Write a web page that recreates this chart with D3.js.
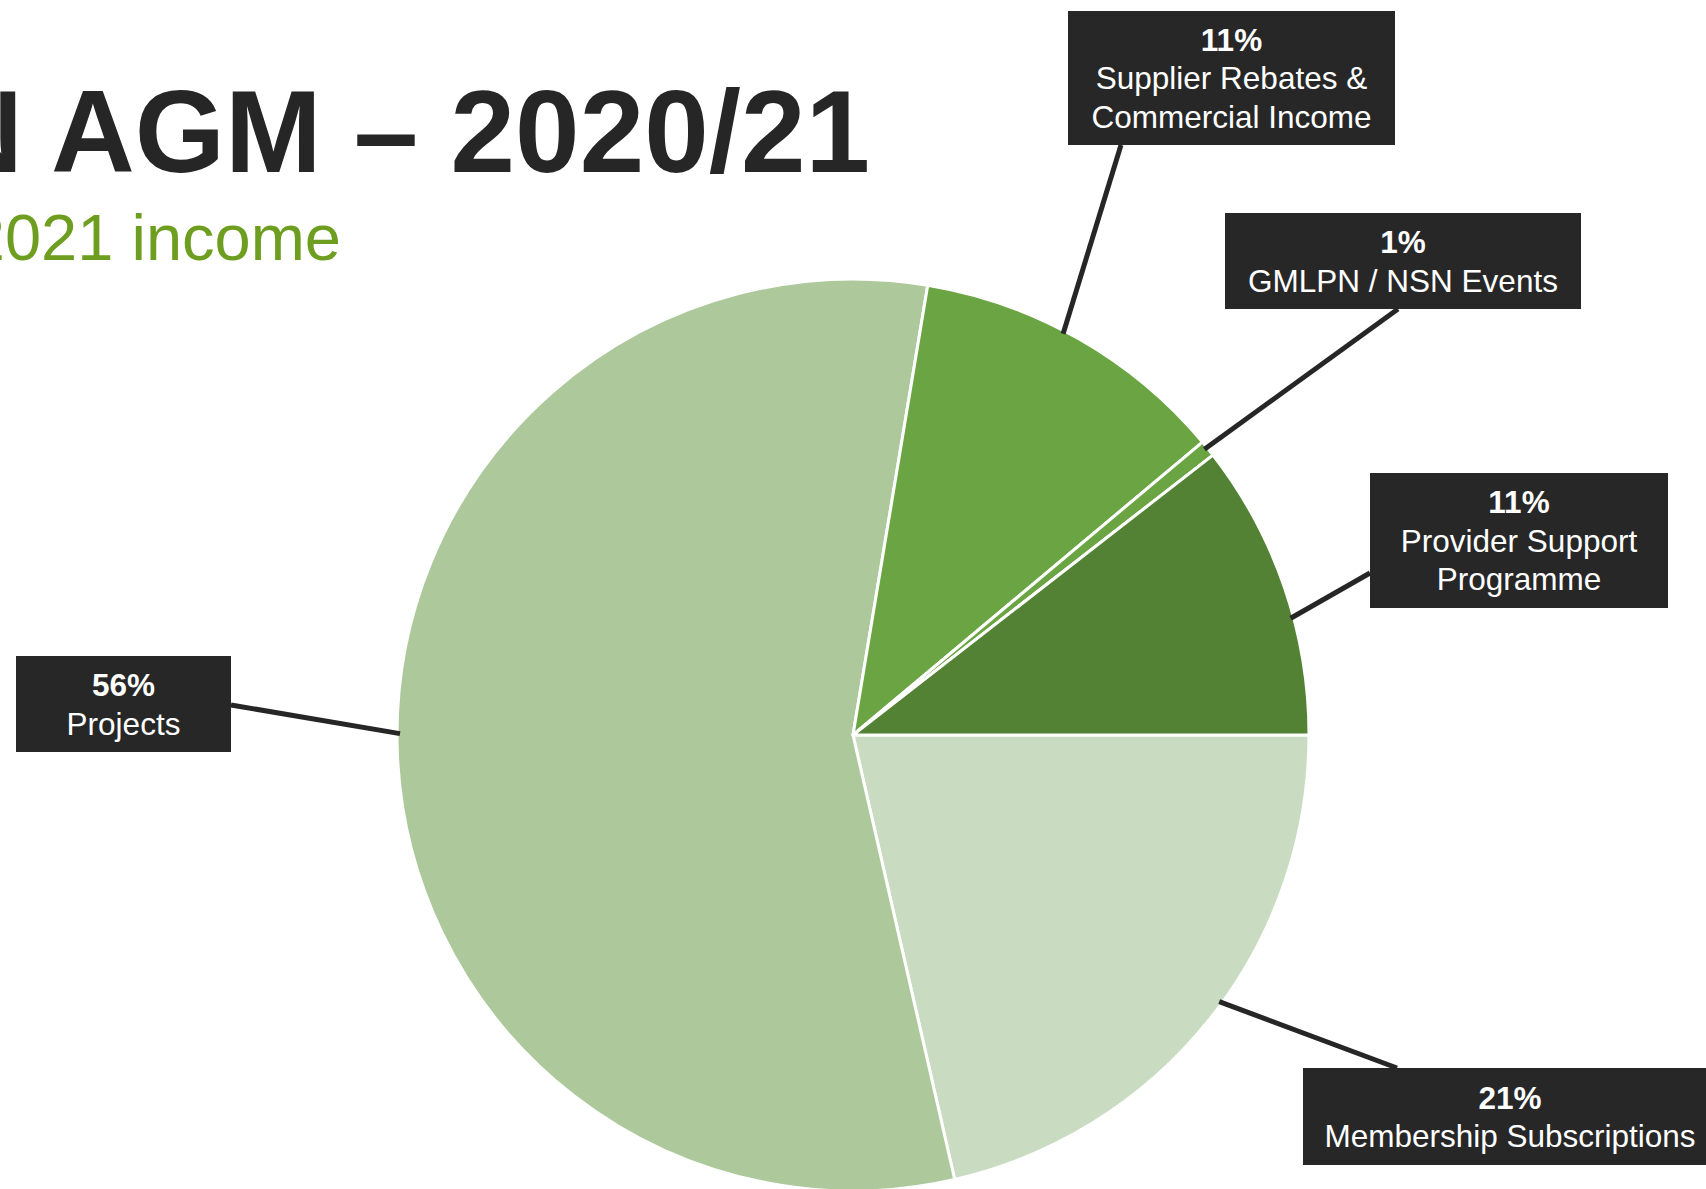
<!DOCTYPE html>
<html>
<head>
<meta charset="utf-8">
<script src="https://cdn.jsdelivr.net/npm/d3@7"></script>
<style>
  html, body { margin: 0; padding: 0; background: #ffffff; overflow: hidden; }
  svg { display: block; font-family: "Liberation Sans", Arial, sans-serif; }
</style>
</head>
<body>
<svg id="chart" width="1706" height="1189"></svg>
<script>
// Income split for the year, in clockwise drawing order starting at 3 o'clock
const categories = [
  "Membership Subscriptions",
  "Projects",
  "Supplier Rebates & Commercial Income",
  "GMLPN / NSN Events",
  "Provider Support Programme"
];
const shares = [21.42, 56.2, 11.28, 0.58, 10.52];
const colors = ["#c9dcc2", "#adc99c", "#6ba543", "#6ba543", "#548235"];

// Label text lines (after the percentage) for each slice
const labelLines = [
  ["Membership Subscriptions"],
  ["Projects"],
  ["Supplier Rebates &", "Commercial Income"],
  ["GMLPN / NSN Events"],
  ["Provider Support", "Programme"]
];

// Callout box layout: box rectangle, leader end point, and a small angle nudge for the leader start
const calloutLayout = [
  { x: 1303, y: 1068, w: 414, h: 97, ex: 1397, ey: 1068, nudge: -2.5 },
  { x: 16,   y: 656,  w: 215, h: 96, ex: 231,  ey: 705,  nudge: 1.9 },
  { x: 1068, y: 11,   w: 327, h: 134, ex: 1121, ey: 145, nudge: -2.1 },
  { x: 1225, y: 213,  w: 356, h: 96, ex: 1398, ey: 309,  nudge: -0.2 },
  { x: 1370, y: 473,  w: 298, h: 135, ex: 1370, ey: 573, nudge: 4.0 }
];

const W = 1706, H = 1189;
const cx = 853, cy = 735, R = 456;
const fontSize = 31.5, lineGap = 38.5;

const svg = d3.select("#chart");
svg.append("rect").attr("width", W).attr("height", H).attr("fill", "#ffffff");

// Title and subtitle (run off the left edge of the page)
const title = svg.append("text")
  .attr("y", 172)
  .attr("font-size", 116)
  .attr("font-weight", "bold")
  .attr("fill", "#262626")
  .text("GMLPN AGM \u2013 2020/21");
const prefixLen = title.node().getSubStringLength(0, 6);
title.attr("x", 51 - prefixLen);

svg.append("text")
  .attr("x", 341)
  .attr("y", 260)
  .attr("text-anchor", "end")
  .attr("font-size", 65)
  .attr("fill", "#6e9e1f")
  .text("2020/2021 income");

const data = categories.map((c, i) => ({ category: c, value: shares[i], color: colors[i], lines: labelLines[i], layout: calloutLayout[i] }));
const total = d3.sum(shares);

const pie = d3.pie()
  .value(d => d.value)
  .sort(null)
  .startAngle(Math.PI / 2)
  .endAngle(Math.PI / 2 + 2 * Math.PI);

const arc = d3.arc().innerRadius(0).outerRadius(R);
const arcs = pie(data);

const g = svg.append("g").attr("transform", `translate(${cx},${cy})`);
g.selectAll("path.slice")
  .data(arcs)
  .join("path")
  .attr("class", "slice")
  .attr("d", arc)
  .attr("fill", d => d.data.color)
  .attr("stroke", "#ffffff")
  .attr("stroke-width", 3)
  .attr("stroke-linejoin", "round");

// Leader lines from the slice edge to the callout boxes
const leaders = svg.append("g");
arcs.forEach(a => {
  const L = a.data.layout;
  const ang = (a.startAngle + a.endAngle) / 2 + L.nudge * Math.PI / 180;
  const sx = cx + (R - 3) * Math.sin(ang);
  const sy = cy - (R - 3) * Math.cos(ang);
  leaders.append("line")
    .attr("x1", sx).attr("y1", sy)
    .attr("x2", L.ex).attr("y2", L.ey)
    .attr("stroke", "#262626")
    .attr("stroke-width", 5);
});

// Callout boxes
const boxes = svg.append("g");
arcs.forEach(a => {
  const L = a.data.layout;
  const b = boxes.append("g");
  b.append("rect")
    .attr("x", L.x).attr("y", L.y)
    .attr("width", L.w).attr("height", L.h)
    .attr("fill", "#272727");
  const lines = [Math.round(a.data.value / total * 100) + "%"].concat(a.data.lines);
  const midY = L.y + L.h / 2;
  const tx = L.x + L.w / 2;
  lines.forEach((t, i) => {
    const yc = midY + (i - (lines.length - 1) / 2) * lineGap;
    b.append("text")
      .attr("x", tx)
      .attr("y", yc)
      .attr("dy", "0.36em")
      .attr("text-anchor", "middle")
      .attr("font-size", fontSize)
      .attr("font-weight", i === 0 ? "bold" : "normal")
      .attr("fill", "#ffffff")
      .text(t);
  });
});
</script>
</body>
</html>
